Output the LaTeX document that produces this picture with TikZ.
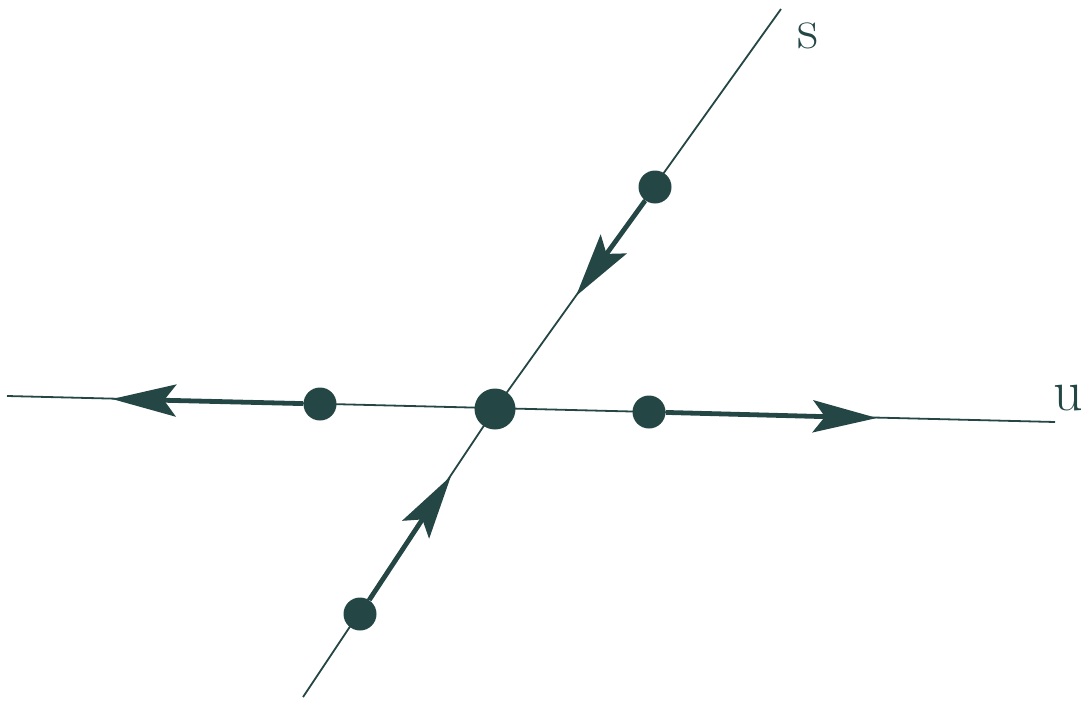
\documentclass[tikz,border=0pt]{standalone}
\usetikzlibrary{arrows.meta}
\definecolor{ink}{RGB}{36,70,68}
\begin{document}
\begin{tikzpicture}[x=0.5pt,y=-0.5pt,
  thin line/.style={draw=ink,line width=0.9pt},
  flow/.style={draw=ink,line width=2.4pt,-{Stealth[length=32pt,width=16pt,inset=6pt]}},
  dot/.style={circle,fill=ink,inner sep=0pt,minimum size=16.5pt},
  bigdot/.style={circle,fill=ink,inner sep=0pt,minimum size=20.5pt},
  lab/.style={text=ink,font=\fontsize{29}{32}\selectfont,inner sep=0pt}]
\useasboundingbox (0,0) rectangle (1086,701);
% line end points
\coordinate (sLow) at (303,697);
\coordinate (sTop) at (781,9);
\coordinate (uL) at (7,396);
\coordinate (uR) at (1055,422);
% arrow tips
\coordinate (t1) at (576,296);
\coordinate (t2) at (451,476);
\coordinate (t3) at (112,399);
\coordinate (t4) at (877,418);
% lines
\draw[thin line] (sLow) -- (495,409) -- (sTop);
\draw[thin line] (uL) -- (uR);
% nodes
\node[bigdot] (c) at (495,409) {};
\node[dot] (d1) at (655,187) {};
\node[dot] (d2) at (360,614) {};
\node[dot] (d3) at (320,404) {};
\node[dot] (d4) at (649,412) {};
% flows
\draw[flow] (d1) -- (t1);
\draw[flow] (d2) -- (t2);
\draw[flow] (d3) -- (t3);
\draw[flow] (d4) -- (t4);
% labels
\node[lab] (ls) at (808,36) {s};
\node[lab] (lu) at (1068,398) {u};
\end{tikzpicture}
\end{document}
